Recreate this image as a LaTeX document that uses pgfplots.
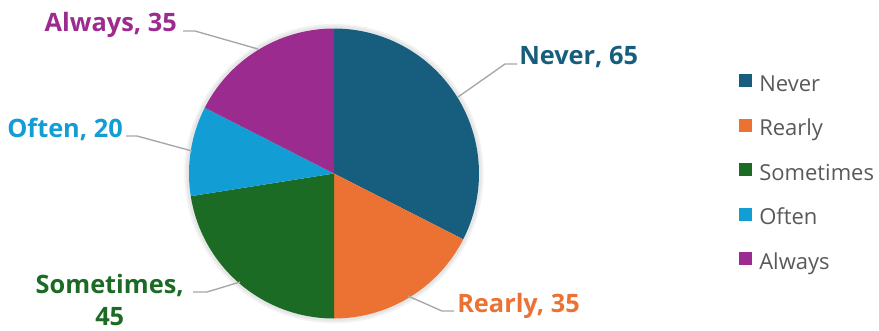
\documentclass[border=0pt]{standalone}
\usepackage{pgfplots}
\pgfplotsset{compat=1.18}
\usepackage{fontspec}
\setmainfont{Open Sans}
\definecolor{cNever}{RGB}{23,94,126}
\definecolor{cRearly}{RGB}{236,114,51}
\definecolor{cSome}{RGB}{27,107,37}
\definecolor{cOften}{RGB}{18,158,212}
\definecolor{cAlways}{RGB}{155,43,143}
\definecolor{cLead}{RGB}{166,166,166}
\definecolor{cLeg}{RGB}{89,89,89}
% data values
\def\vNever{65}\def\vRearly{35}\def\vSome{45}\def\vOften{20}\def\vAlways{35}
\pgfmathsetmacro{\tot}{\vNever+\vRearly+\vSome+\vOften+\vAlways}
\pgfmathsetmacro{\aA}{0}
\pgfmathsetmacro{\aB}{\aA+360*(\vNever/\tot)}
\pgfmathsetmacro{\aC}{\aB+360*(\vRearly/\tot)}
\pgfmathsetmacro{\aD}{\aC+360*(\vSome/\tot)}
\pgfmathsetmacro{\aE}{\aD+360*(\vOften/\tot)}
\pgfmathsetmacro{\aF}{\aE+360*(\vAlways/\tot)}
\def\cx{334}\def\cy{156.5}\def\rr{145}
\pgfplotsset{
  slice/.style={draw=none, fill=#1, samples=80, variable=\t,
    legend image code/.code={\fill[##1] (0pt,-1pt) rectangle (9.75pt,8.75pt);}},
}
\begin{document}
\begin{tikzpicture}
\begin{axis}[
  scale only axis, width=659.25pt, height=247.5pt,
  xmin=0, xmax=879, ymin=0, ymax=330,
  axis lines=none, clip=false,
  legend cell align=left,
  legend style={draw=none, fill=none, inner sep=0pt, row sep=16.6pt,
    font=\fontsize{16.5}{18}\selectfont, text=cLeg,
    nodes={inner sep=0pt, text height=12pt, text depth=4pt},
    at={(axis cs:739,256)}, anchor=north west,
    /tikz/every odd column/.append style={column sep=5.25pt}},
]
\path (axis cs:0,0) rectangle (axis cs:879,330);
% soft shadow
\addplot[forget plot, domain=0:360, samples=120, variable=\t, draw=black, opacity=0.05, line width=7pt] ({\cx+\rr*sin(\t)},{\cy+\rr*cos(\t)});
\addplot[forget plot, domain=0:360, samples=120, variable=\t, draw=black, opacity=0.05, line width=4pt] ({\cx+\rr*sin(\t)},{\cy+\rr*cos(\t)});
% slices
\addplot[slice=cNever, domain=\aA:\aB] ({\cx+\rr*sin(\t)},{\cy+\rr*cos(\t)}) -- (axis cs:\cx,\cy) -- cycle;
\addlegendentry{Never}
\addplot[slice=cRearly, domain=\aB:\aC] ({\cx+\rr*sin(\t)},{\cy+\rr*cos(\t)}) -- (axis cs:\cx,\cy) -- cycle;
\addlegendentry{Rearly}
\addplot[slice=cSome, domain=\aC:\aD] ({\cx+\rr*sin(\t)},{\cy+\rr*cos(\t)}) -- (axis cs:\cx,\cy) -- cycle;
\addlegendentry{Sometimes}
\addplot[slice=cOften, domain=\aD:\aE] ({\cx+\rr*sin(\t)},{\cy+\rr*cos(\t)}) -- (axis cs:\cx,\cy) -- cycle;
\addlegendentry{Often}
\addplot[slice=cAlways, domain=\aE:\aF] ({\cx+\rr*sin(\t)},{\cy+\rr*cos(\t)}) -- (axis cs:\cx,\cy) -- cycle;
\addlegendentry{Always}
% leader lines
\addplot[forget plot, cLead, line width=1pt, mark=none] coordinates {(458,233) (505,266) (517,266)};
\addplot[forget plot, cLead, line width=1pt, mark=none] coordinates {(408,34) (442,19) (454,19)};
\addplot[forget plot, cLead, line width=1pt, mark=none] coordinates {(240,48) (207,38) (193,38)};
\addplot[forget plot, cLead, line width=1pt, mark=none] coordinates {(192,179) (137,194) (126,194)};
\addplot[forget plot, cLead, line width=1pt, mark=none] coordinates {(258,281) (195,299) (183,299)};
% labels
\node[anchor=base west, inner sep=0pt, text=cNever, font=\bfseries\fontsize{19}{24}\selectfont] at (axis cs:519,266) {Never, \vNever};
\node[anchor=base west, inner sep=0pt, text=cRearly, font=\bfseries\fontsize{19}{24}\selectfont] at (axis cs:457,18) {Rearly, \vRearly};
\node[anchor=base east, inner sep=0pt, align=center, text=cSome, font=\bfseries\fontsize{19}{24}\selectfont] at (axis cs:184,5) {Sometimes,\\\vSome};
\node[anchor=base east, inner sep=0pt, text=cOften, font=\bfseries\fontsize{19}{24}\selectfont] at (axis cs:123,193) {Often, \vOften};
\node[anchor=base east, inner sep=0pt, text=cAlways, font=\bfseries\fontsize{19}{24}\selectfont] at (axis cs:177,299) {Always, \vAlways};
\end{axis}
\end{tikzpicture}
\end{document}
